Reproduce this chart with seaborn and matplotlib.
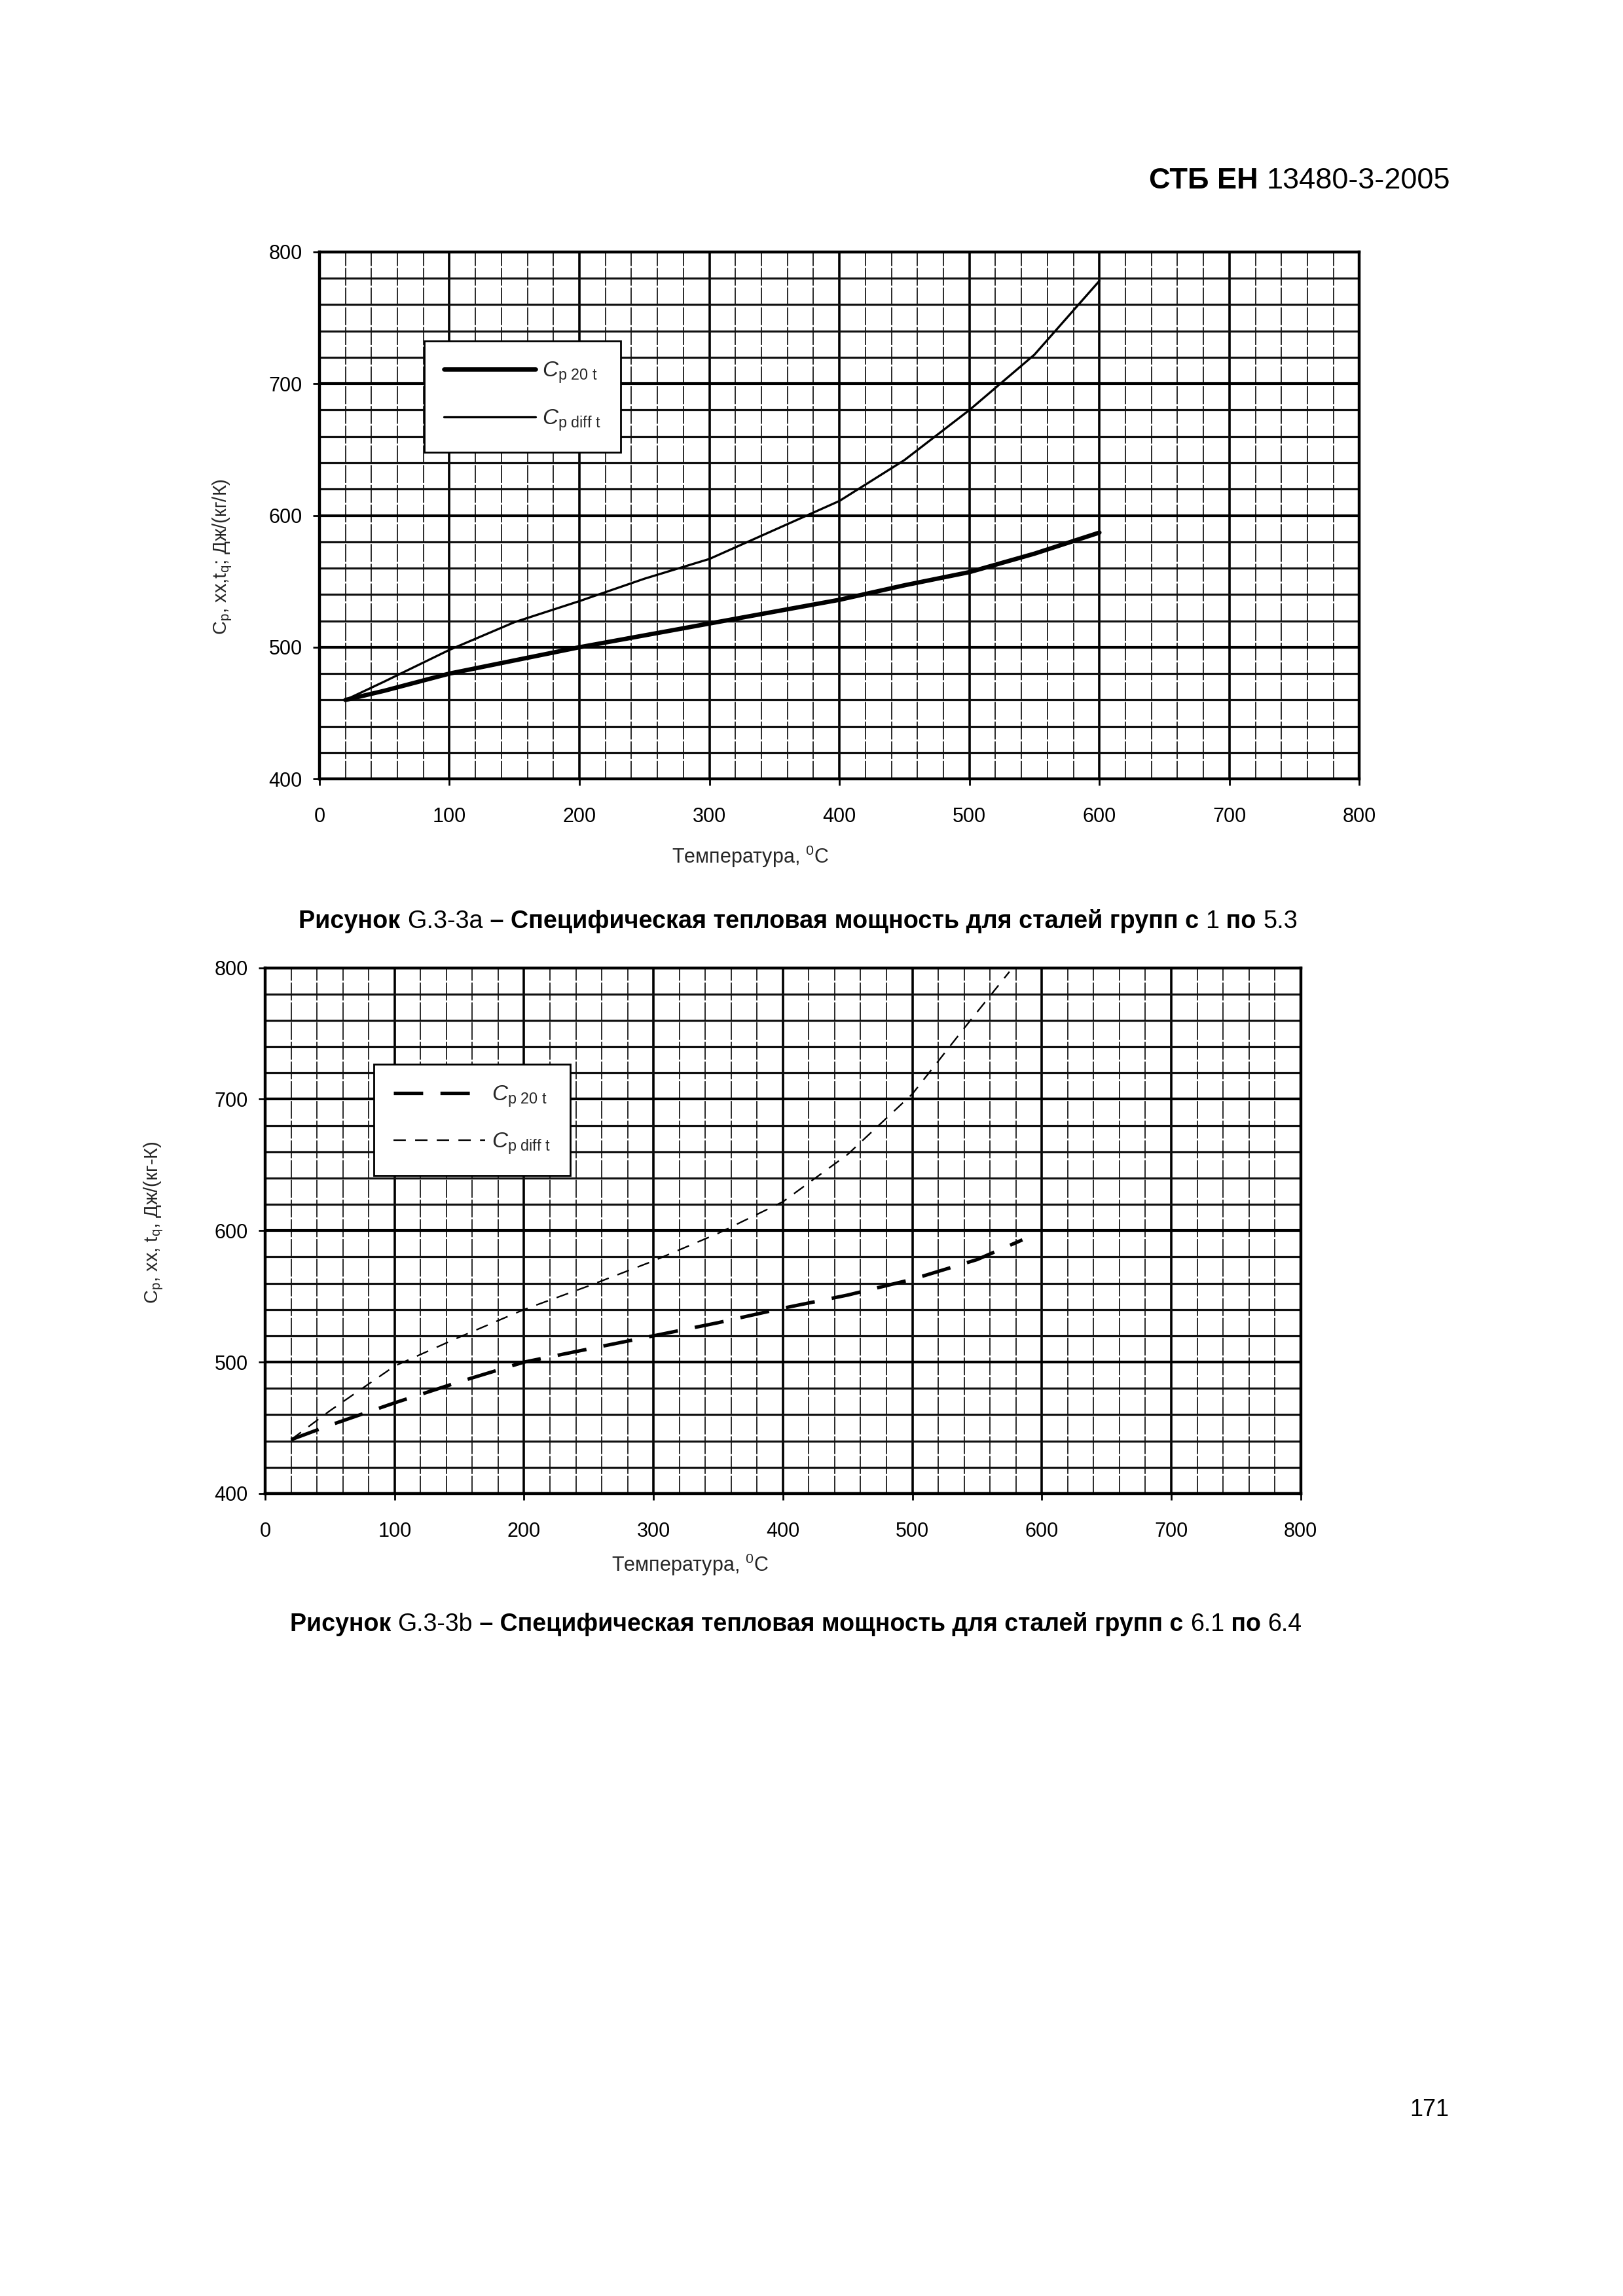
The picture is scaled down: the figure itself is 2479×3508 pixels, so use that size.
import numpy as np
import pandas as pd
import matplotlib
matplotlib.use("Agg")
import matplotlib.pyplot as plt
import seaborn as sns

# ---------------- data ----------------
# Figure G.3-3a  (steel groups 1 ... 5.3)
temp_a = [20, 50, 100, 150, 200, 250, 300, 350, 400, 450, 500, 550, 600]
cp20_a = [460, 467, 480, 490, 500, 509, 518, 527, 536, 547, 557, 571, 587]
cpdiff_a = [460, 474, 498, 519, 535, 552, 567, 589, 611, 642, 680, 722, 778]

# Figure G.3-3b  (steel groups 6.1 ... 6.4)
temp_b20 = [20, 50, 100, 150, 200, 250, 300, 350, 400, 450, 500, 550, 585]
cp20_b = [441, 452, 469, 485, 500, 510, 520, 530, 541, 551, 563, 578, 593]
temp_bdiff = [20, 50, 100, 150, 200, 250, 300, 350, 400, 450, 500, 540, 575]
cpdiff_b = [441, 463, 497, 519, 540, 558, 577, 598, 622, 658, 704, 754, 797]

x_ticks = [0, 100, 200, 300, 400, 500, 600, 700, 800]
y_ticks = [400, 500, 600, 700, 800]

label_20 = r"$C_{\mathregular{p\ 20\ t}}$"
label_diff = r"$C_{\mathregular{p\ diff\ t}}$"
xlabel_txt = r"Температура, $^{\mathregular{0}}$C"
ylabel_a = r"C$_{\mathregular{p}}$, xx,t$_{\mathregular{q}}$; Дж/(кг/К)"
ylabel_b = r"C$_{\mathregular{p}}$, xx, t$_{\mathregular{q}}$, Дж/(кг-К)"

header_parts = [("СТБ ЕН ", "bold"), ("13480-3-2005", "normal")]
caption_a_parts = [("Рисунок ", "bold"), ("G.3-3a", "normal"),
                   (" – Специфическая тепловая мощность для сталей групп с ", "bold"),
                   ("1", "normal"), (" по ", "bold"), ("5.3", "normal")]
caption_b_parts = [("Рисунок ", "bold"), ("G.3-3b", "normal"),
                   (" – Специфическая тепловая мощность для сталей групп с ", "bold"),
                   ("6.1", "normal"), (" по ", "bold"), ("6.4", "normal")]
page_number = "171"

# ---------------- style ----------------
sns.set_style("white")
plt.rcParams['font.family'] = ['Liberation Sans', 'DejaVu Sans']
plt.rcParams['mathtext.fontset'] = 'custom'
plt.rcParams['mathtext.rm'] = 'Liberation Sans'
plt.rcParams['mathtext.it'] = 'Liberation Sans:italic'
plt.rcParams['mathtext.bf'] = 'Liberation Sans:bold'

W, H = 2479, 3508
fig = plt.figure(figsize=(W / 100, H / 100), dpi=100)
fig.patch.set_facecolor("white")

axA = fig.add_axes([0.1968, 0.6607, 0.6408, 0.2296])
axB = fig.add_axes([0.1634, 0.3495, 0.6380, 0.2290])


def style_axes(ax):
    ax.set_xlim(0, 800)
    ax.set_ylim(400, 800)
    ax.set_xticks(x_ticks)
    ax.set_xticks(np.arange(0, 801, 20), minor=True)
    ax.set_yticks(y_ticks)
    ax.set_yticks(np.arange(400, 801, 20), minor=True)
    ax.set_axisbelow(True)
    ax.xaxis.grid(True, which='major', color='black', lw=2.6)
    ax.xaxis.grid(True, which='minor', color='#2a2a2a', lw=1.4, ls=(0, (14, 1.5)))
    ax.yaxis.grid(True, which='major', color='black', lw=3.0)
    ax.yaxis.grid(True, which='minor', color='#111111', lw=2.3)
    ax.tick_params(axis='both', which='major', direction='out', length=7, width=2,
                   color='black', labelsize=22, labelcolor='black',
                   bottom=True, left=True)
    ax.tick_params(axis='x', which='major', pad=24)
    ax.tick_params(axis='y', which='major', pad=12)
    ax.tick_params(which='minor', length=0)
    for s in ax.spines.values():
        s.set_visible(True)
        s.set_linewidth(3.2)
        s.set_color('black')


style_axes(axA)
style_axes(axB)

# ---- chart a ----
dfa20 = pd.DataFrame({"T": temp_a, "Cp": cp20_a})
dfadiff = pd.DataFrame({"T": temp_a, "Cp": cpdiff_a})
sns.lineplot(data=dfa20, x="T", y="Cp", ax=axA, color='black', lw=4.8,
             label=label_20, zorder=5)
sns.lineplot(data=dfadiff, x="T", y="Cp", ax=axA, color='black', lw=2.4,
             label=label_diff, zorder=5)

# ---- chart b ----
dfb20 = pd.DataFrame({"T": temp_b20, "Cp": cp20_b})
dfbdiff = pd.DataFrame({"T": temp_bdiff, "Cp": cpdiff_b})
sns.lineplot(data=dfb20, x="T", y="Cp", ax=axB, color='black', lw=3.8,
             linestyle=(0, (8.5, 5)), label=label_20, zorder=5)
sns.lineplot(data=dfbdiff, x="T", y="Cp", ax=axB, color='black', lw=1.7,
             linestyle=(0, (8, 6)), label=label_diff, zorder=5)

for ax, anchor in ((axA, (0.101, 0.831)), (axB, (0.105, 0.816))):
    leg = ax.legend(loc='upper left', bbox_to_anchor=anchor, borderaxespad=0,
                    frameon=True, fancybox=False, edgecolor='black', framealpha=1,
                    facecolor='white', fontsize=24, handlelength=4.2,
                    handletextpad=0.3, labelspacing=1.05, borderpad=0.9)
    leg.get_frame().set_linewidth(2.0)
    leg.set_zorder(10)

# axis labels
for ax, yl, xc, yc, ylx, yly in ((axA, ylabel_a, 0.414, -0.147, -0.093, 0.422),
                                 (axB, ylabel_b, 0.410, -0.136, -0.1075, 0.516)):
    ax.set_xlabel(xlabel_txt, fontsize=22)
    ax.xaxis.set_label_coords(xc, yc)
    ax.xaxis.label.set_va('center')
    ax.set_ylabel(yl, fontsize=21)
    ax.yaxis.set_label_coords(ylx, yly)
    ax.yaxis.label.set_va('center')

# ---------------- page texts ----------------
renderer = fig.canvas.get_renderer()
FAM = ['Liberation Sans Narrow', 'Liberation Sans', 'DejaVu Sans']


def text_width(s, size, weight, family):
    t1 = fig.text(0, 0, "x" + s + "x", fontsize=size, fontweight=weight, family=family)
    t2 = fig.text(0, 0, "xx", fontsize=size, fontweight=weight, family=family)
    w = t1.get_window_extent(renderer).width - t2.get_window_extent(renderer).width
    t1.remove()
    t2.remove()
    return w


def rich_text(x, y, parts, size, family, ha='left', target_width=None):
    ws = [text_width(s, size, w, family) for s, w in parts]
    if target_width:
        size = size * target_width / sum(ws)
        ws = [text_width(s, size, w, family) for s, w in parts]
    total = sum(ws)
    x0 = x * W if ha == 'left' else x * W - total
    for (s, w), wd in zip(parts, ws):
        fig.text(x0 / W, y, s, fontsize=size, fontweight=w, family=family,
                 va='baseline', ha='left', color='black')
        x0 += wd


rich_text(0.8935, 0.918, header_parts, 32, ['Liberation Sans', 'DejaVu Sans'],
          ha='right', target_width=461)
rich_text(0.1841, 0.5958, caption_a_parts, 22, FAM, target_width=1526)
rich_text(0.1787, 0.2896, caption_b_parts, 22, FAM, target_width=1546)
rich_text(0.8927, 0.0784, [(page_number, "normal")], 28,
          ['Liberation Sans', 'DejaVu Sans'], ha='right', target_width=60)

fig.savefig("out.png", dpi=100, facecolor='white')
